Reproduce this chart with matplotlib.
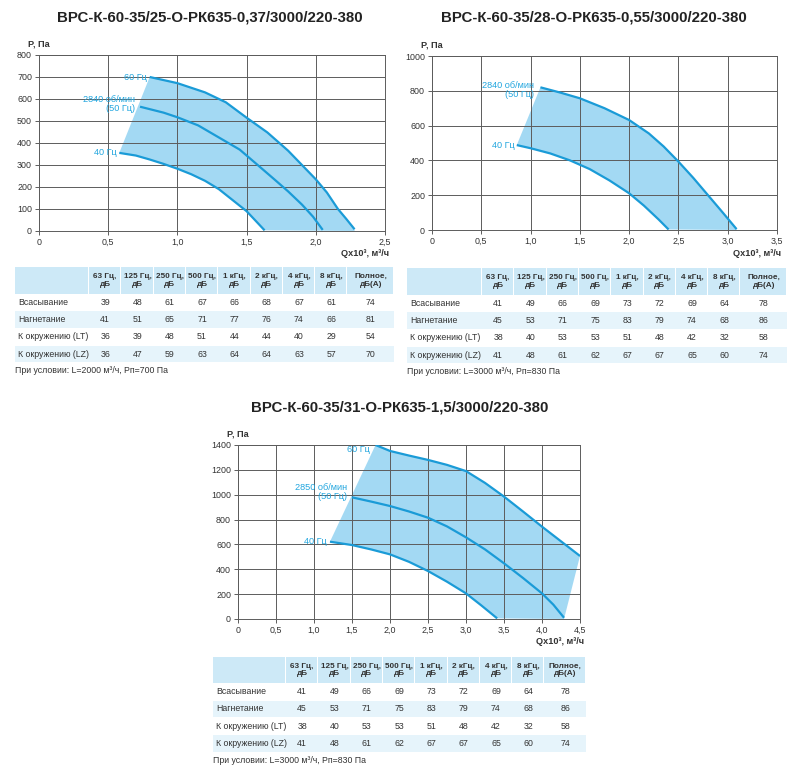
import matplotlib
matplotlib.use('Agg')
import matplotlib.pyplot as plt
from matplotlib.patches import Rectangle, Polygon
from matplotlib.ticker import FuncFormatter
import numpy as np

plt.rcParams['font.family'] = ['Liberation Sans', 'DejaVu Sans']

W, H = 800, 782

# ---------------- данные ----------------
titles = ["ВРС-К-60-35/25-О-РК635-0,37/3000/220-380",
          "ВРС-К-60-35/28-О-РК635-0,55/3000/220-380",
          "ВРС-К-60-35/31-О-РК635-1,5/3000/220-380"]

# график 1
q1_60 = [0.80, 1.00, 1.20, 1.35, 1.50, 1.65, 1.80, 1.90, 2.00, 2.08, 2.16, 2.22, 2.28]
p1_60 = [700, 672, 630, 585, 515, 448, 365, 300, 235, 175, 100, 55, 8]
q1_50 = [0.73, 0.90, 1.00, 1.15, 1.30, 1.45, 1.58, 1.70, 1.80, 1.90, 1.98, 2.05]
p1_50 = [565, 538, 517, 480, 425, 370, 300, 235, 180, 120, 65, 5]
q1_40 = [0.58, 0.70, 0.80, 0.90, 1.00, 1.10, 1.20, 1.30, 1.40, 1.50, 1.56, 1.63]
p1_40 = [355, 343, 325, 305, 283, 258, 228, 190, 140, 90, 50, 3]

# график 2
q2_50 = [1.10, 1.30, 1.50, 1.75, 2.00, 2.20, 2.35, 2.50, 2.65, 2.80, 2.95, 3.09]
p2_50 = [820, 790, 757, 700, 632, 555, 480, 393, 300, 200, 100, 5]
q2_40 = [0.86, 1.00, 1.20, 1.40, 1.60, 1.80, 2.00, 2.15, 2.30, 2.40]
p2_40 = [488, 470, 440, 400, 350, 285, 211, 140, 60, 3]

# график 3
q3_60 = [1.81, 2.00, 2.25, 2.50, 2.75, 3.00, 3.25, 3.50, 3.75, 4.00, 4.25, 4.50]
p3_60 = [1400, 1352, 1315, 1280, 1240, 1190, 1095, 985, 865, 743, 625, 507]
q3_50 = [1.50, 1.75, 2.00, 2.25, 2.50, 2.75, 3.00, 3.25, 3.50, 3.75, 4.00, 4.15, 4.29]
p3_50 = [979, 945, 909, 865, 815, 745, 657, 560, 448, 330, 206, 115, 10]
q3_40 = [1.21, 1.50, 1.75, 2.00, 2.25, 2.50, 2.75, 3.00, 3.20, 3.41]
p3_40 = [622, 595, 560, 520, 460, 386, 300, 206, 110, 5]

lbl_60 = "60 Гц"
lbl_50_1 = "2840 об/мин\n(50 Гц)"
lbl_50_3 = "2850 об/мин\n(50 Гц)"
lbl_40 = "40 Гц"

col_headers = ["63 Гц,\nдБ", "125 Гц,\nдБ", "250 Гц,\nдБ", "500 Гц,\nдБ", "1 кГц,\nдБ",
               "2 кГц,\nдБ", "4 кГц,\nдБ", "8 кГц,\nдБ", "Полное,\nдБ(А)"]
row_labels = ["Всасывание", "Нагнетание", "К окружению (LT)", "К окружению (LZ)"]

noise_1 = [[39, 48, 61, 67, 66, 68, 67, 61, 74],
           [41, 51, 65, 71, 77, 76, 74, 66, 81],
           [36, 39, 48, 51, 44, 44, 40, 29, 54],
           [36, 47, 59, 63, 64, 64, 63, 57, 70]]
noise_2 = [[41, 49, 66, 69, 73, 72, 69, 64, 78],
           [45, 53, 71, 75, 83, 79, 74, 68, 86],
           [38, 40, 53, 53, 51, 48, 42, 32, 58],
           [41, 48, 61, 62, 67, 67, 65, 60, 74]]
noise_3 = [[41, 49, 66, 69, 73, 72, 69, 64, 78],
           [45, 53, 71, 75, 83, 79, 74, 68, 86],
           [38, 40, 53, 53, 51, 48, 42, 32, 58],
           [41, 48, 61, 62, 67, 67, 65, 60, 74]]

notes = ["При условии: L=2000 м³/ч, Рп=700 Па",
         "При условии: L=3000 м³/ч, Рп=830 Па",
         "При условии: L=3000 м³/ч, Рп=830 Па"]

# ---------------- стиль ----------------
C_LINE = '#1a9bd7'
C_TXT = '#22a6df'
C_FILL = '#93d3f2'
C_GRID = '#5c5c5c'
C_HEAD = '#cde9f7'
C_ALT = '#e6f4fb'
C_DARK = '#333333'

fig = plt.figure(figsize=(W / 100, H / 100), dpi=100)

# подложка в пикселях для заголовков и таблиц
bg = fig.add_axes([0, 0, 1, 1])
bg.set_xlim(0, W)
bg.set_ylim(H, 0)
bg.axis('off')


def px_rect(l, t, r, b):
    return [l / W, 1 - b / H, (r - l) / W, (b - t) / H]


def comma(v, pos):
    if v == 0:
        return "0"
    return ("%.1f" % v).replace('.', ',')


def chart(box, xmax, xstep, ymax, ystep, curves, labels):
    l, t, r, b = box
    ax = fig.add_axes(px_rect(l, t, r, b))
    ax.set_xlim(0, xmax)
    ax.set_ylim(0, ymax)
    ax.set_xticks(np.arange(0, xmax + 0.001, xstep))
    ax.set_yticks(np.arange(0, ymax + 1, ystep))
    ax.xaxis.set_major_formatter(FuncFormatter(comma))
    ax.grid(True, color=C_GRID, lw=0.7, zorder=2)
    ax.set_axisbelow(False)
    for s in ax.spines.values():
        s.set_color(C_GRID)
        s.set_linewidth(0.7)
    ax.tick_params(length=3, width=0.7, color=C_GRID, labelsize=6.4,
                   labelcolor=C_DARK, pad=2)

    # заливка между верхней и нижней кривой
    top_q, top_p = curves[0]
    low_q, low_p = curves[-1]
    corner = max(c[0][-1] for c in curves if c[1][-1] < 50)
    poly_x = list(top_q) + [corner] + list(low_q[::-1])
    poly_y = list(top_p) + [0] + list(low_p[::-1])
    ax.add_patch(Polygon(np.column_stack([poly_x, poly_y]), closed=True,
                         facecolor=C_FILL, edgecolor='none', alpha=0.85, zorder=1))

    for (q, p) in curves:
        ax.plot(q, p, color=C_LINE, lw=1.6, zorder=3, solid_capstyle='butt')

    for (q, p), (txt, dx, dy) in zip(curves, labels):
        ax.annotate(txt, xy=(q[0], p[0]), xytext=(dx, dy), textcoords='offset pixels',
                    ha='right', va='center', fontsize=6.6, color=C_TXT,
                    linespacing=1.05, zorder=4)

    bg.text(l, t - 11, "P, Па", ha='center', va='center', fontsize=6.6,
            fontweight='bold', color=C_DARK)
    bg.text(r + 4, b + 23, "Qx10³, м³/ч", ha='right', va='center', fontsize=6.6,
            fontweight='bold', color=C_DARK)
    return ax


def table(x0, y0, lab_w, col_w, last_w, head_h, row_h, values, note):
    widths = [lab_w] + [col_w] * 8 + [last_w]
    xs = np.concatenate([[x0], x0 + np.cumsum(widths)])
    # шапка
    for i in range(len(widths)):
        bg.add_patch(Rectangle((xs[i], y0), widths[i] - 1, head_h,
                               facecolor=C_HEAD, edgecolor='none'))
    for j, h in enumerate(col_headers):
        bg.text((xs[j + 1] + xs[j + 2]) / 2, y0 + head_h / 2, h, ha='center',
                va='center', fontsize=5.9, fontweight='bold', color=C_DARK,
                linespacing=1.15)
    for i, (name, vals) in enumerate(zip(row_labels, values)):
        yt = y0 + head_h + i * row_h
        if i % 2 == 1:
            bg.add_patch(Rectangle((x0, yt + 0.5), xs[-1] - x0, row_h - 1,
                                   facecolor=C_ALT, edgecolor='none'))
        yc = yt + row_h / 2
        bg.text(x0 + 3, yc, name, ha='left', va='center', fontsize=6.3, color=C_DARK)
        for j, v in enumerate(vals):
            bg.text((xs[j + 1] + xs[j + 2]) / 2, yc, str(v), ha='center',
                    va='center', fontsize=6.3, color=C_DARK)
    bg.text(x0, y0 + head_h + 4 * row_h + 8, note, ha='left', va='center',
            fontsize=6.3, color=C_DARK)


title_kw = dict(ha='center', va='center', fontsize=10.8, fontweight='bold',
                color='#222222')
bg.text(210, 18, titles[0], **title_kw)
bg.text(594, 18, titles[1], **title_kw)
bg.text(400, 408, titles[2], **title_kw)

chart((39, 55, 385, 231), 2.5, 0.5, 800, 100,
      [(q1_60, p1_60), (q1_50, p1_50), (q1_40, p1_40)],
      [(lbl_60, -3, 0), (lbl_50_1, -5, 3), (lbl_40, -3, 0)])
chart((432, 56, 777, 230), 3.5, 0.5, 1000, 200,
      [(q2_50, p2_50), (q2_40, p2_40)],
      [(lbl_50_1, -6, -3), (lbl_40, -2, 0)])
chart((238, 445, 580, 619), 4.5, 0.5, 1400, 200,
      [(q3_60, p3_60), (q3_50, p3_50), (q3_40, p3_40)],
      [(lbl_60, -6, -5), (lbl_50_3, -5, 5), (lbl_40, -3, 0)])

table(15, 267, 74, 32.3, 47, 26.5, 17.3, noise_1, notes[0])
table(407, 268, 75, 32.3, 47, 26.5, 17.3, noise_2, notes[1])
table(213, 657, 73, 32.3, 42, 26, 17.3, noise_3, notes[2])

fig.savefig('out.png', dpi=100)
